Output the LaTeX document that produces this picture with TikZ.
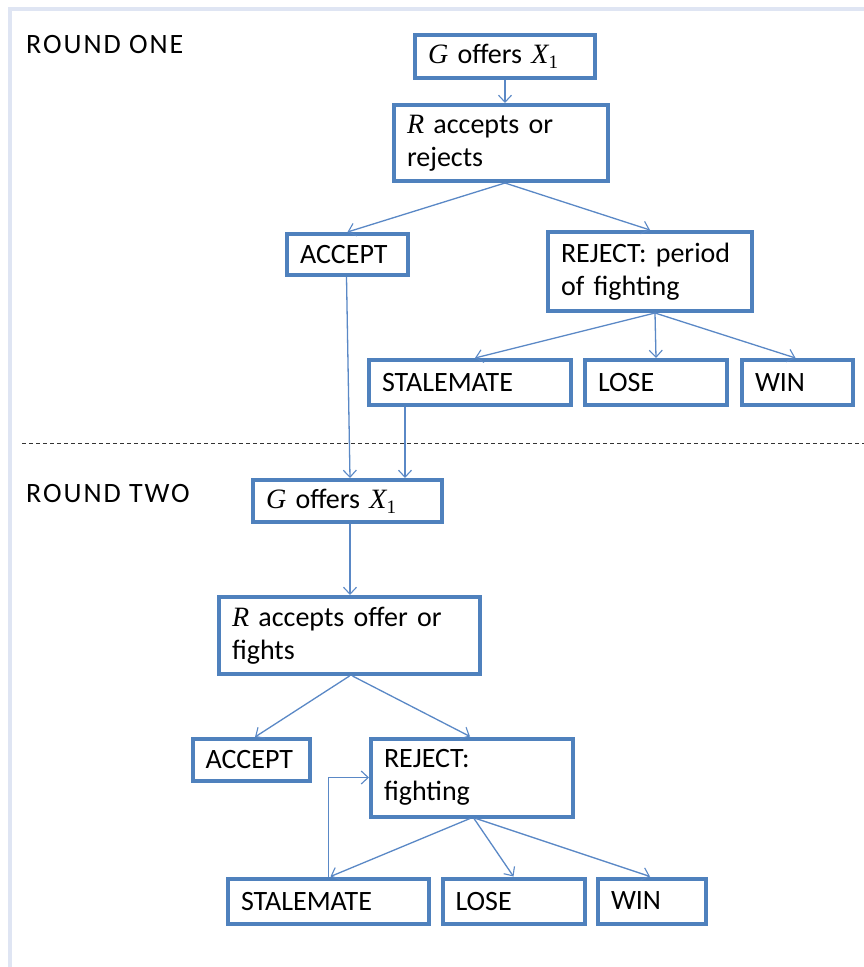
\documentclass[tikz,border=0pt]{standalone}
\usepackage{fontspec}
\setmainfont{Carlito}
\newfontfamily\cambria{Liberation Serif}
\usetikzlibrary{arrows.meta}
\newcommand{\mvar}[1]{{\cambria\itshape #1}}
\newcommand{\Xone}{\mvar{X}\raisebox{-5pt}{\cambria\fontsize{19}{19}\selectfont 1}}
\definecolor{boxblue}{HTML}{4F81BD}
\definecolor{lineblue}{HTML}{5A88C6}
\definecolor{framecol}{HTML}{DFE5F3}
\begin{document}
\begin{tikzpicture}[x=1pt,y=-1pt,
  every node/.style={font=\fontsize{28}{33}\selectfont},
  box/.style={draw=boxblue, line width=4pt, fill=white, inner xsep=13pt, inner ysep=0pt, align=left},
  conn/.style={draw=lineblue, line width=1.3pt, -{Straight Barb[length=7pt,width=13pt,line width=1.1pt]}},
  lbl/.style={anchor=base west, inner sep=0pt, font=\fontsize{28}{33}\selectfont\addfontfeature{LetterSpace=7}}]
\useasboundingbox (0,0) rectangle (864,967);
\fill[white] (0,0) rectangle (864,967);
\draw[framecol, line width=3.5pt] (10,975) -- (10,9) -- (875,9);

% labels
\node[lbl] (r1lbl) at (26,53) {ROUND ONE};
\node[lbl] (r2lbl) at (26,502) {ROUND TWO};
\draw[black!80, line width=0.9pt, dash pattern=on 4pt off 3pt] (22,443) -- (864,443);

% round one
\node[box, minimum width=180pt, minimum height=43pt, text width=154pt] (G1) at (505,56.5) {\mvar{G} offers \Xone};
\node[box, minimum width=214pt, minimum height=76pt, text width=188pt] (R1) at (501,143) {\mvar{R} accepts or\\rejects};
\node[box, minimum width=121pt, minimum height=41pt, text width=95pt] (ACC1) at (347.5,254.5) {ACCEPT};
\node[box, minimum width=204pt, minimum height=79pt, text width=178pt] (REJ1) at (650,271.5) {REJECT: period\\of fighting};
\node[box, minimum width=202pt, minimum height=45pt, text width=176pt] (STAL1) at (470,382.5) {STALEMATE};
\node[box, minimum width=142pt, minimum height=45pt, text width=116pt] (LOSE1) at (656,382.5) {LOSE};
\node[box, minimum width=111pt, minimum height=45pt, text width=85pt] (WIN1) at (797.5,382.5) {WIN};

% round two
\node[box, minimum width=189pt, minimum height=42pt, text width=163pt] (G2) at (347.5,501) {\mvar{G} offers \Xone};
\node[box, minimum width=261pt, minimum height=77pt, text width=235pt] (R2) at (349.5,635.5) {\mvar{R} accepts offer or\\fights};
\node[box, minimum width=117pt, minimum height=42pt, text width=91pt] (ACC2) at (251,760) {ACCEPT};
\node[box, minimum width=202pt, minimum height=78pt, text width=176pt] (REJ2) at (472,777.5) {REJECT:\\fighting};
\node[box, minimum width=201pt, minimum height=45pt, text width=175pt] (STAL2) at (328.5,901) {STALEMATE};
\node[box, minimum width=142pt, minimum height=45pt, text width=116pt] (LOSE2) at (513.5,901) {LOSE};
\node[box, minimum width=108pt, minimum height=45pt, text width=82pt] (WIN2) at (652,901) {WIN};

% connectors round one
\draw[conn] (G1.south) -- (G1.south |- R1.north);
\draw[conn] ([xshift=4pt]R1.south) -- (ACC1.north);
\draw[conn] ([xshift=4pt]R1.south) -- (REJ1.north);
\draw[conn] ([xshift=5pt]REJ1.south) -- ([xshift=5pt]STAL1.north);
\draw[conn] ([xshift=5pt]REJ1.south) -- (LOSE1.north);
\draw[conn] ([xshift=5pt]REJ1.south) -- ([xshift=-2pt]WIN1.north);
\draw[conn] ([xshift=-1pt]ACC1.south) -- ([xshift=2.5pt]G2.north);
\draw[conn] ([xshift=-65pt]STAL1.south) -- ([xshift=-65pt]STAL1.south |- G2.north);

% connectors round two
\draw[conn] ([xshift=2.5pt]G2.south) -- ([xshift=2.5pt]G2.south |- R2.north);
\draw[conn] (R2.south) -- ([xshift=4pt]ACC2.north);
\draw[conn] ([xshift=3pt]R2.south) -- ([xshift=-2pt]REJ2.north);
\draw[conn] ([xshift=-2pt]REJ2.south) -- ([xshift=2pt]STAL2.north);
\draw[conn] ([xshift=2pt]REJ2.south) -- (LOSE2.north);
\draw[conn] ([xshift=4pt]REJ2.south) -- ([xshift=-2pt]WIN2.north);
\draw[conn] (STAL2.north) |- (REJ2.west);
\end{tikzpicture}
\end{document}
